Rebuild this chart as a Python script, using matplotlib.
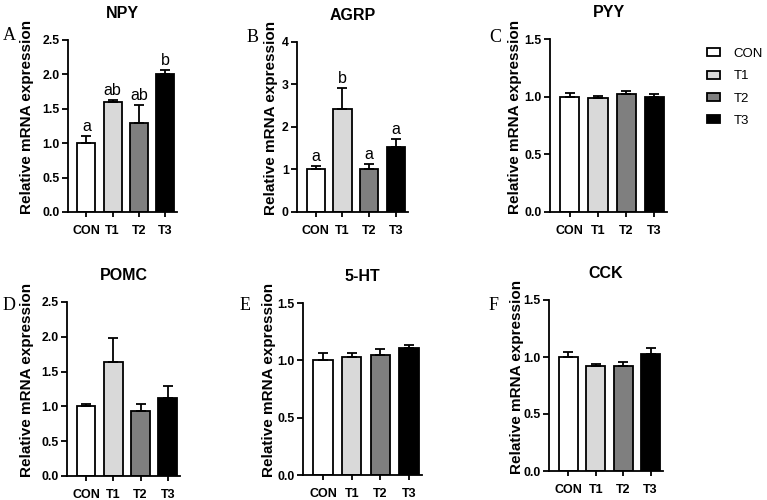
import matplotlib
matplotlib.use("Agg")
import matplotlib.pyplot as plt
from matplotlib.patches import Patch
import numpy as np

plt.rcParams['font.family'] = ['Liberation Sans', 'DejaVu Sans']

groups = ["CON", "T1", "T2", "T3"]
colors = ["#ffffff", "#d9d9d9", "#7f7f7f", "#000000"]

npy_vals = [1.00, 1.60, 1.30, 2.00]
npy_err = [0.10, 0.03, 0.26, 0.06]
npy_letters = ["a", "ab", "ab", "b"]

agrp_vals = [1.00, 2.42, 1.01, 1.52]
agrp_err = [0.09, 0.50, 0.12, 0.19]
agrp_letters = ["a", "b", "a", "a"]

pyy_vals = [1.00, 0.99, 1.02, 1.00]
pyy_err = [0.03, 0.02, 0.03, 0.02]

pomc_vals = [1.00, 1.64, 0.94, 1.12]
pomc_err = [0.04, 0.34, 0.10, 0.18]

ht_vals = [1.00, 1.03, 1.05, 1.11]
ht_err = [0.06, 0.03, 0.05, 0.02]

cck_vals = [1.00, 0.92, 0.92, 1.03]
cck_err = [0.04, 0.02, 0.04, 0.05]

W, H = 767, 500
fig = plt.figure(figsize=(W / 100, H / 100), dpi=100)


def add_ax(l, t, r, b):
    return fig.add_axes([l / W, 1 - b / H, (r - l) / W, (b - t) / H])


panels = [
    # title, letter, vals, err, letters, ytop, yticks, fmt, rect(l,t,r,b), letter pos, ylabel center x px
    ("NPY", "A", npy_vals, npy_err, npy_letters, 2.5, np.arange(0, 2.51, 0.5), "{:.1f}", (68, 40, 177, 212), (3, 36), 27),
    ("AGRP", "B", agrp_vals, agrp_err, agrp_letters, 4, np.arange(0, 4.1, 1), "{:.0f}", (297, 42, 408, 212), (247, 37), 271),
    ("PYY", "C", pyy_vals, pyy_err, None, 1.5, np.arange(0, 1.51, 0.5), "{:.1f}", (550, 39, 667, 212), (489, 37), 514),
    ("POMC", "D", pomc_vals, pomc_err, None, 2.5, np.arange(0, 2.51, 0.5), "{:.1f}", (67, 302, 180, 476), (3, 306), 27),
    ("5-HT", "E", ht_vals, ht_err, None, 1.5, np.arange(0, 1.51, 0.5), "{:.1f}", (303, 303, 422, 475), (240, 306), 268),
    ("CCK", "F", cck_vals, cck_err, None, 1.5, np.arange(0, 1.51, 0.5), "{:.1f}", (549, 300, 663, 471), (489, 306), 516),
]

x = np.arange(len(groups))
lw = 1.3
for title, letter, vals, err, lets, ytop, yt, fmt, rect, lpos, ylx in panels:
    ax = add_ax(*rect)
    ax.bar(x, vals, width=0.68, color=colors, edgecolor="black", linewidth=lw, zorder=2)
    ax.errorbar(x, vals, yerr=[np.zeros(len(vals)), err], fmt="none", ecolor="black",
                elinewidth=lw, capsize=3.3, capthick=lw, zorder=3)
    ax.set_xlim(-0.7, 3.45)
    ax.set_ylim(0, ytop)
    ax.set_yticks(yt)
    ax.set_yticklabels([fmt.format(v) for v in yt], fontweight="bold", fontsize=8.8)
    ax.set_xticks(x)
    ax.set_xticklabels(groups, fontweight="bold", fontsize=9)
    for s in ["top", "right"]:
        ax.spines[s].set_visible(False)
    for s in ["left", "bottom"]:
        ax.spines[s].set_linewidth(lw)
    ax.tick_params(axis="y", direction="out", length=4.5, width=lw, pad=1.5)
    ax.tick_params(axis="x", direction="out", length=3.6, width=lw, pad=6)
    ax.set_ylabel("Relative mRNA expression", fontweight="bold", fontsize=11)
    top, bot = rect[1], rect[3]
    ax.yaxis.set_label_coords((ylx + 7.5) / W, 1 - (top + bot) / 2 / H + 0.018,
                              transform=fig.transFigure)
    ax.set_title(title, fontweight="bold", fontsize=11.5, pad=16)
    if lets:
        for xi, v, e, t in zip(x, vals, err, lets):
            ax.annotate(t, (xi, v + e), xytext=(0, 1.5), textcoords="offset points",
                        ha="center", va="bottom", fontsize=11.5)
    fig.text(lpos[0] / W, 1 - lpos[1] / H, letter, fontsize=13,
             family=["Liberation Serif", "DejaVu Serif"], ha="left", va="center")

handles = [Patch(facecolor=c, edgecolor="black", linewidth=lw) for c in colors]
fig.legend(handles, groups, loc="upper left", bbox_to_anchor=(707 / W, 1 - 48 / H),
           frameon=False, fontsize=9.5, handlelength=1.0, handleheight=0.55,
           labelspacing=0.78, handletextpad=1.0, borderpad=0, borderaxespad=0)

fig.savefig("out.png", dpi=100)
